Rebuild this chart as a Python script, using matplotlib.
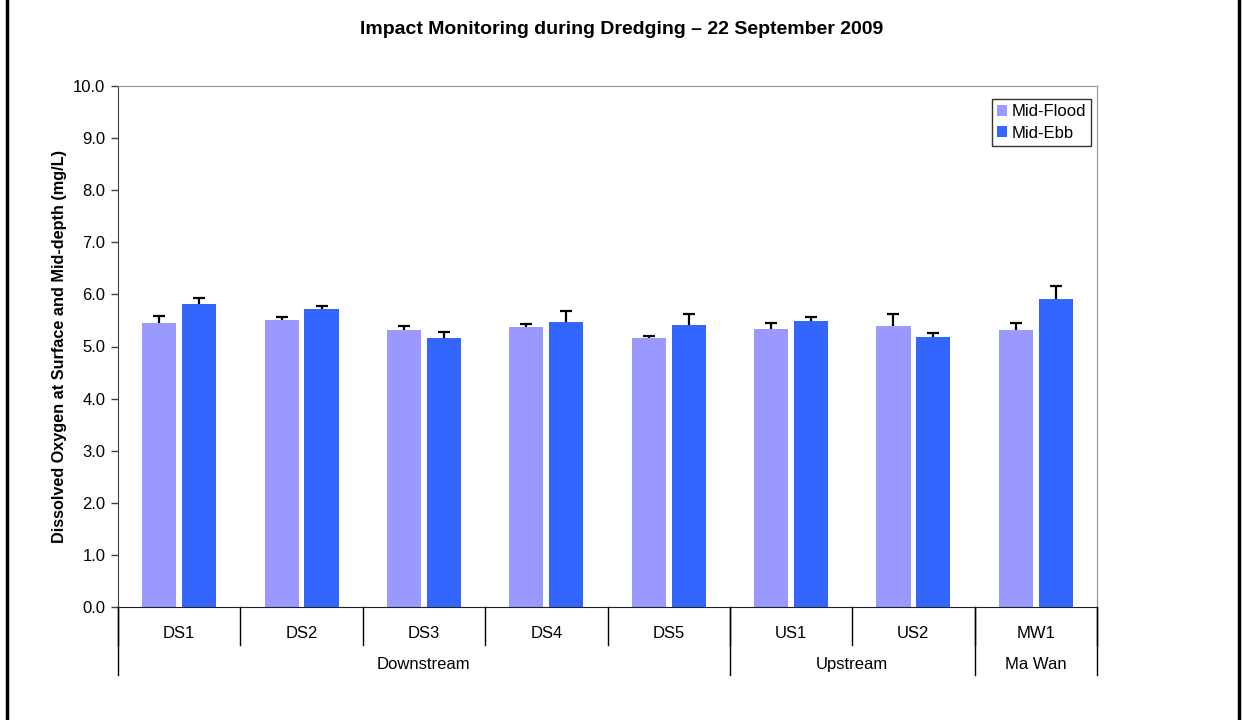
import matplotlib
matplotlib.use("Agg")
import matplotlib.pyplot as plt
import numpy as np
from matplotlib.lines import Line2D
from matplotlib.patches import Patch

plt.rcParams['font.family'] = ['Liberation Sans', 'DejaVu Sans']

title = "Impact Monitoring during Dredging \u2013 22 September 2009"
ylabel = "Dissolved Oxygen at Surface and Mid-depth (mg/L)"
stations = ["DS1", "DS2", "DS3", "DS4", "DS5", "US1", "US2", "MW1"]
groups = ["Downstream", "Upstream", "Ma Wan"]
group_sizes = [5, 2, 1]
series_names = ["Mid-Flood", "Mid-Ebb"]
mid_flood = [5.45, 5.51, 5.32, 5.37, 5.16, 5.34, 5.39, 5.32]
mid_ebb = [5.82, 5.72, 5.16, 5.47, 5.41, 5.49, 5.18, 5.91]
err_flood = [0.14, 0.05, 0.08, 0.07, 0.05, 0.12, 0.24, 0.14]
err_ebb = [0.11, 0.06, 0.12, 0.21, 0.22, 0.08, 0.08, 0.26]
colors = ["#9999FF", "#3366FF"]

fig = plt.figure(figsize=(12.43, 7.2), dpi=100)
ax = fig.add_axes([118/1243, 1-607/720, 979/1243, 521/720])

x = np.arange(len(stations))
w = 0.278
off = 0.163
for vals, errs, c, d in [(mid_flood, err_flood, colors[0], -off), (mid_ebb, err_ebb, colors[1], off)]:
    vals = np.array(vals)
    errs = np.array(errs)
    ax.bar(x + d, vals, width=w, color=c, zorder=2)
    ax.vlines(x + d, vals, vals + errs, color='black', lw=1.6, zorder=3)
    ax.plot(x + d, vals + errs, ls='none', marker='_', ms=9, mew=1.6, color='black', zorder=3)

ax.set_xlim(-0.5, len(stations) - 0.5)
ax.set_ylim(0, 10)
ax.set_yticks(np.arange(0, 10.01, 1.0))
ax.set_yticklabels([f"{v:.1f}" for v in np.arange(0, 10.01, 1.0)], fontsize=12)
ax.tick_params(axis='y', direction='out', length=5, width=1, color='#404040', pad=4)
ax.set_xticks([])
for s in ['top', 'right']:
    ax.spines[s].set_color('#909090')
ax.spines['left'].set_color('#404040')
ax.spines['bottom'].set_color('#202020')
ax.set_ylabel(ylabel, fontsize=11.7, fontweight='bold', labelpad=4.5)
fig.text(0.5, 1 - 29/720, title, ha='center', va='center',
         fontsize=14, fontweight='bold')

trans = ax.get_xaxis_transform()
for b in np.arange(-0.5, len(stations), 1.0):
    ax.add_line(Line2D([b, b], [0, -0.073], transform=trans, color='black', lw=1, clip_on=False))
for i, s in enumerate(stations):
    ax.text(i, -0.05, s, transform=trans, ha='center', va='center', fontsize=12)
start = -0.5
bounds = [start]
for gs in group_sizes:
    start += gs
    bounds.append(start)
for b in bounds:
    ax.add_line(Line2D([b, b], [0, -0.131], transform=trans, color='black', lw=1, clip_on=False))
for g, a, bb in zip(groups, bounds[:-1], bounds[1:]):
    ax.text((a + bb) / 2, -0.11, g, transform=trans, ha='center', va='center', fontsize=12)

handles = [Patch(facecolor=c, edgecolor='none') for c in colors]
leg = ax.legend(handles, series_names, loc='upper right', bbox_to_anchor=(0.994, 0.975),
                borderaxespad=0, fontsize=12, frameon=True, fancybox=False,
                handlelength=0.65, handleheight=0.65, handletextpad=0.25,
                borderpad=0.3, labelspacing=0.4)
leg.get_frame().set_edgecolor('black')
leg.get_frame().set_linewidth(1)

fig.add_artist(Line2D([7/1243, 7/1243], [0, 1], transform=fig.transFigure, color='black', lw=2.5))
fig.add_artist(Line2D([1239/1243, 1239/1243], [0, 1], transform=fig.transFigure, color='black', lw=2.5))

fig.savefig("out.png", dpi=100)
